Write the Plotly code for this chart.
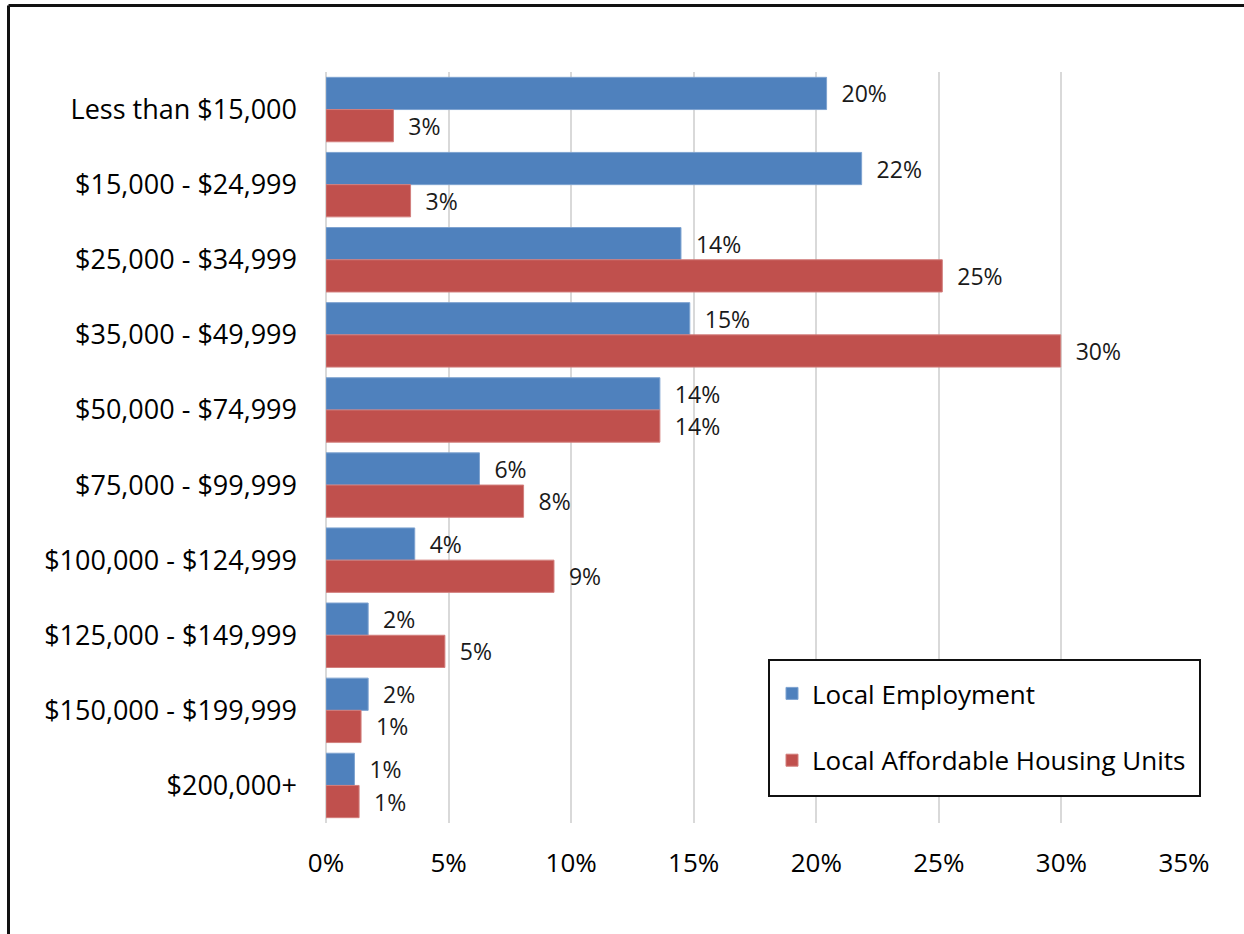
import plotly.graph_objects as go

# Household income brackets (top to bottom)
income_brackets = [
    "Less than $15,000",
    "$15,000 - $24,999",
    "$25,000 - $34,999",
    "$35,000 - $49,999",
    "$50,000 - $74,999",
    "$75,000 - $99,999",
    "$100,000 - $124,999",
    "$125,000 - $149,999",
    "$150,000 - $199,999",
    "$200,000+",
]

# Share of each bracket (fractions)
local_employment = [0.2042, 0.2185, 0.1448, 0.1484, 0.1362, 0.0626, 0.0362, 0.0172, 0.0172, 0.0116]
affordable_housing = [0.0275, 0.0345, 0.2514, 0.2997, 0.1362, 0.0806, 0.0930, 0.0485, 0.0143, 0.0135]

x_tick_values = [0, 0.05, 0.10, 0.15, 0.20, 0.25, 0.30, 0.35]

FONT = "Open Sans"
BLUE = "#4F81BD"
RED = "#C0504D"
GRID = "#d9d9d9"

# plot-area geometry in pixels
W, H = 1244, 934
ML, MR, MT, MB = 326, 60, 72, 111
PW = W - ML - MR
PH = H - MT - MB


def px_x(px):
    return (px - ML) / PW


def px_y(py):
    return (H - MB - py) / PH


fig = go.Figure()

fig.add_trace(go.Bar(
    name="Local Employment",
    y=income_brackets,
    x=local_employment,
    orientation="h",
    marker=dict(color=BLUE, line=dict(color="#7ea3d0", width=1)),
    texttemplate="\u00a0\u00a0%{x:.0%}",
    textposition="outside",
    textfont=dict(family=FONT, size=23, color="#1a1a1a"),
    constraintext="none",
    cliponaxis=False,
    legendgroup="emp",
))

fig.add_trace(go.Bar(
    name="Local Affordable Housing Units",
    y=income_brackets,
    x=affordable_housing,
    orientation="h",
    marker=dict(color=RED, line=dict(color="#d27e7c", width=1)),
    texttemplate="\u00a0\u00a0%{x:.0%}",
    textposition="outside",
    textfont=dict(family=FONT, size=23, color="#1a1a1a"),
    constraintext="none",
    cliponaxis=False,
    legendgroup="hou",
))

fig.update_layout(
    width=W,
    height=H,
    margin=dict(l=ML, r=MR, t=MT, b=MB),
    paper_bgcolor="white",
    plot_bgcolor="white",
    barmode="group",
    bargap=0.142,
    bargroupgap=0,
    font=dict(family=FONT, color="black"),
    showlegend=True,
    legend=dict(
        x=px_x(772),
        y=px_y(670),
        xanchor="left",
        yanchor="top",
        bgcolor="rgba(0,0,0,0)",
        borderwidth=0,
        font=dict(family=FONT, size=26, color="black"),
        traceorder="grouped",
        tracegroupgap=30,
    ),
    xaxis=dict(
        range=[0, 0.35],
        tickvals=x_tick_values,
        tickformat=".0%",
        tickfont=dict(family=FONT, size=26, color="black"),
        showgrid=True,
        gridcolor=GRID,
        gridwidth=2,
        zeroline=True,
        zerolinecolor=GRID,
        zerolinewidth=2,
        showline=False,
        ticks="",
        ticklabelstandoff=22,
    ),
    yaxis=dict(
        autorange="reversed",
        tickfont=dict(family=FONT, size=27, color="black"),
        showgrid=False,
        showline=False,
        ticks="",
        ticklabelstandoff=28,
    ),
    shapes=[
        # outer chart frame: left and top edges
        dict(type="line", xref="paper", yref="paper",
             x0=px_x(8.5), x1=px_x(8.5), y0=px_y(960), y1=px_y(5.5),
             line=dict(color="#111111", width=3), layer="above"),
        dict(type="line", xref="paper", yref="paper",
             x0=px_x(8.5), x1=px_x(1300), y0=px_y(5.5), y1=px_y(5.5),
             line=dict(color="#111111", width=3), layer="above"),
        # legend box
        dict(type="rect", xref="paper", yref="paper",
             x0=px_x(769), x1=px_x(1200), y0=px_y(796), y1=px_y(660),
             line=dict(color="#111111", width=2), fillcolor="white",
             layer="above"),
    ],
)

fig.write_html("out.html")
